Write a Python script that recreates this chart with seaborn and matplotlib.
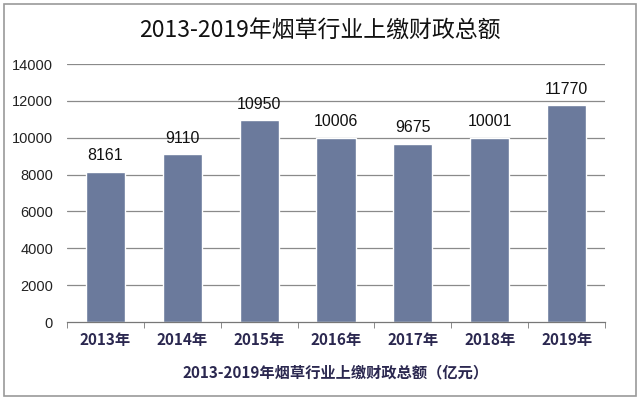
import matplotlib
matplotlib.use("Agg")
import matplotlib.pyplot as plt
import seaborn as sns
import pandas as pd
from matplotlib.patches import Rectangle

years = ["2013年", "2014年", "2015年", "2016年", "2017年", "2018年", "2019年"]
values = [8161, 9110, 10950, 10006, 9675, 10001, 11770]
yticks = [0, 2000, 4000, 6000, 8000, 10000, 12000, 14000]

sns.set_style("white")
plt.rcParams['font.family'] = ['Noto Sans CJK SC', 'DejaVu Sans']

df = pd.DataFrame({"year": years, "value": values})

fig = plt.figure(figsize=(6.4, 4.03), dpi=100)
ax = fig.add_axes([67/640, 81/403, 538/640, 258/403])

ax.set_ylim(0, 14000)
ax.set_yticks(yticks)
for y in yticks[1:]:
    ax.axhline(y, color="#8a8a8a", lw=0.9, zorder=0)

sns.barplot(data=df, x="year", y="value", color="#6b7a9c", saturation=1,
            width=0.51, ax=ax, zorder=2)

for i, v in enumerate(values):
    ax.text(i, v + 450, str(v), ha="center", va="bottom", fontsize=11.5,
            family=["Liberation Sans", "DejaVu Sans"], color="#111111")

ax.set_xlim(-0.5, len(years) - 0.5)
for s in ["top", "right", "left"]:
    ax.spines[s].set_visible(False)
ax.spines["bottom"].set_color("#777777")
ax.spines["bottom"].set_linewidth(0.9)

ax.set_xticks([i - 0.5 for i in range(len(years) + 1)], minor=True)
ax.tick_params(axis="x", which="minor", length=4, color="#777777", direction="out", bottom=True)
ax.tick_params(axis="x", which="major", length=0, pad=7)
ax.set_xticklabels(years, fontsize=11, fontweight="bold", color="#2b2850")
ax.tick_params(axis="y", length=0, pad=10)
for lab in ax.get_yticklabels():
    lab.set_fontfamily(["Liberation Sans", "DejaVu Sans"])
    lab.set_fontsize(10.5)
    lab.set_color("#222222")

ax.set_xlabel("2013-2019年烟草行业上缴财政总额（亿元）", fontsize=11,
              fontweight="bold", color="#2b2850", labelpad=12)
ax.set_ylabel("")

fig.text(0.5, 1 - 30/403, "2013-2019年烟草行业上缴财政总额", ha="center", va="center",
         fontsize=16.5, color="#111111")

fig.patches.append(Rectangle((4/640, 7/403), 632/640, 392/403, transform=fig.transFigure,
                             fill=False, edgecolor="#9a9a9a", lw=1.2))

fig.savefig("out.png", dpi=100)
